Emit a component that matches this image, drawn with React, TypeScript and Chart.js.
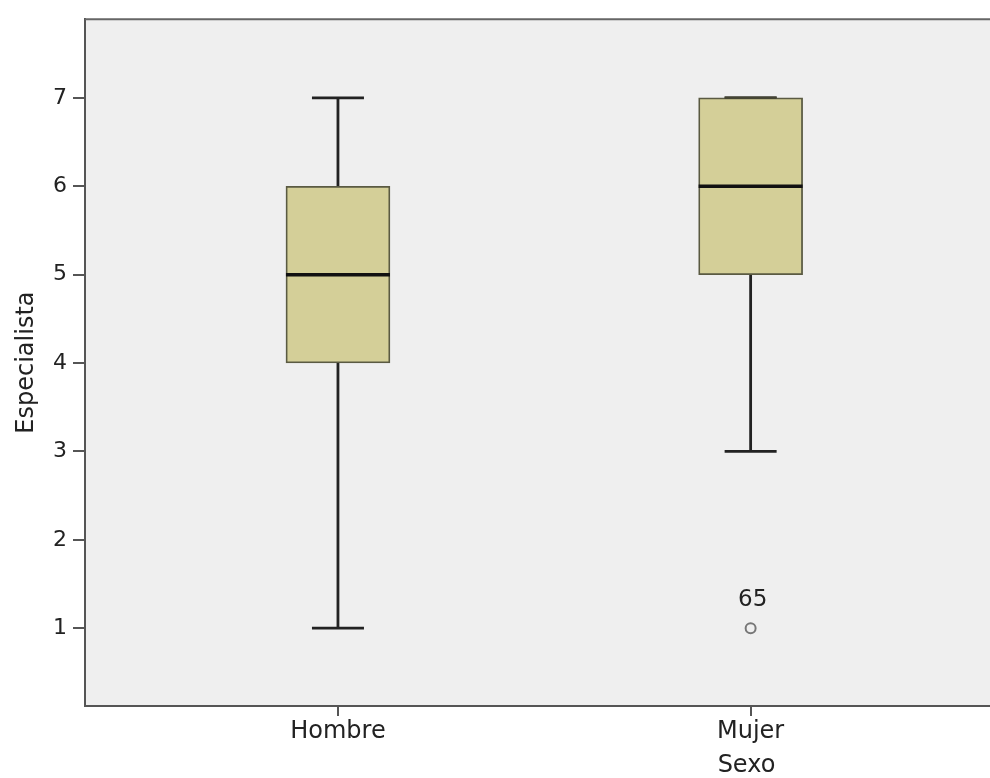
import React, { useEffect, useRef } from "react";
import { Chart, registerables } from "chart.js";

Chart.register(...registerables);

const categories = ["Hombre", "Mujer"];
const positions = [1, 2];
const whiskerLow = [1, 3];
const quartile1 = [4, 5];
const medians = [5, 6];
const quartile3 = [6, 7];
const whiskerHigh = [7, 7];
const outlierCategory = [2];
const outlierValues = [1];
const outlierLabels = ["65"];
const yTicks = [1, 2, 3, 4, 5, 6, 7];

const FONT = "'DejaVu Sans', Verdana, sans-serif";

const boxPlugin = {
  id: "boxParts",
  beforeDraw(chart: any) {
    const { ctx, chartArea } = chart;
    ctx.save();
    ctx.fillStyle = "#efefef";
    ctx.fillRect(chartArea.left, chartArea.top, chartArea.right - chartArea.left, chartArea.bottom - chartArea.top);
    ctx.restore();
  },
  beforeDatasetsDraw(chart: any) {
    const { ctx, scales } = chart;
    const xs = scales.x;
    const ys = scales.y;
    const capHalf = 26;
    ctx.save();
    ctx.strokeStyle = "#222222";
    ctx.lineWidth = 2.8;
    positions.forEach((p, i) => {
      const x = xs.getPixelForValue(p);
      const yLo = ys.getPixelForValue(whiskerLow[i]);
      const yQ1 = ys.getPixelForValue(quartile1[i]);
      const yQ3 = ys.getPixelForValue(quartile3[i]);
      const yHi = ys.getPixelForValue(whiskerHigh[i]);
      ctx.beginPath();
      ctx.moveTo(x, yLo);
      ctx.lineTo(x, yQ1);
      ctx.moveTo(x, yQ3);
      ctx.lineTo(x, yHi);
      ctx.moveTo(x - capHalf, yLo);
      ctx.lineTo(x + capHalf, yLo);
      ctx.moveTo(x - capHalf, yHi);
      ctx.lineTo(x + capHalf, yHi);
      ctx.stroke();
    });
    ctx.restore();
  },
  afterDatasetsDraw(chart: any) {
    const { ctx, scales, chartArea } = chart;
    const xs = scales.x;
    const ys = scales.y;
    const half = 52;
    ctx.save();
    ctx.strokeStyle = "#444433";
    ctx.lineWidth = 2.5;
    positions.forEach((p, i) => {
      const x = xs.getPixelForValue(p);
      if (whiskerHigh[i] === quartile3[i]) {
        const y = ys.getPixelForValue(whiskerHigh[i]);
        ctx.beginPath();
        ctx.moveTo(x - 26, y);
        ctx.lineTo(x + 26, y);
        ctx.stroke();
      }
    });
    ctx.strokeStyle = "#111111";
    ctx.lineWidth = 3.5;
    positions.forEach((p, i) => {
      const x = xs.getPixelForValue(p);
      const y = ys.getPixelForValue(medians[i]);
      ctx.beginPath();
      ctx.moveTo(x - half, y);
      ctx.lineTo(x + half, y);
      ctx.stroke();
    });
    ctx.fillStyle = "#222222";
    ctx.font = `23px ${FONT}`;
    ctx.textAlign = "center";
    ctx.textBaseline = "middle";
    outlierValues.forEach((v, i) => {
      const x = xs.getPixelForValue(outlierCategory[i]);
      const y = ys.getPixelForValue(v);
      ctx.fillText(outlierLabels[i], x + 2, y - 28);
    });
    ctx.strokeStyle = "#666666";
    ctx.lineWidth = 2;
    ctx.beginPath();
    ctx.moveTo(chartArea.left, chartArea.top);
    ctx.lineTo(chartArea.right, chartArea.top);
    ctx.stroke();
    ctx.restore();
  },
};

export default function App() {
  const ref = useRef<HTMLCanvasElement | null>(null);

  useEffect(() => {
    if (!ref.current) return;
    const chart = new Chart(ref.current, {
      type: "bar",
      data: {
        datasets: [
          {
            type: "bar",
            label: "Caja",
            data: positions.map((p, i) => ({ x: p, y: [quartile1[i], quartile3[i]] })) as any,
            backgroundColor: "#d4cf98",
            borderColor: "#5a5a42",
            borderWidth: 1.8,
            borderSkipped: false,
            barThickness: 104,
          } as any,
          {
            type: "scatter",
            label: "Atípicos",
            data: outlierValues.map((v, i) => ({ x: outlierCategory[i], y: v })),
            pointRadius: 5,
            pointBorderColor: "#777777",
            pointBorderWidth: 2,
            pointBackgroundColor: "rgba(0,0,0,0)",
          } as any,
        ],
      },
      options: {
        responsive: false,
        animation: false,
        layout: { padding: { top: 15, right: 0, left: 0, bottom: 0 } },
        plugins: { legend: { display: false }, tooltip: { enabled: false } },
        scales: {
          x: {
            type: "linear",
            offset: false,
            min: 0.387,
            max: 3.593,
            afterBuildTicks: (scale: any) => {
              scale.ticks = positions.map((p) => ({ value: p }));
            },
            afterFit: (scale: any) => {
              scale.height = 72;
            },
            ticks: {
              autoSkip: false,
              maxRotation: 0,
              padding: 1,
              color: "#222222",
              font: { family: FONT, size: 24 },
              callback: (v: any) => {
                const idx = positions.indexOf(Number(v));
                return idx >= 0 ? categories[idx] : "";
              },
            },
            grid: { display: true, offset: false, drawOnChartArea: false, drawTicks: true, tickLength: 10, color: "#555555", lineWidth: 2 },
            border: { display: true, color: "#555555", width: 2 },
            title: {
              display: true,
              text: "Sexo",
              color: "#222222",
              font: { family: FONT, size: 24, lineHeight: 1.0 },
              padding: { top: 0, bottom: 0 },
            },
          },
          y: {
            type: "linear",
            min: 0.12,
            max: 7.89,
            afterBuildTicks: (scale: any) => {
              scale.ticks = yTicks.map((v) => ({ value: v }));
            },
            afterFit: (scale: any) => {
              scale.width = 85;
            },
            ticks: {
              padding: 6,
              color: "#222222",
              font: { family: FONT, size: 22 },
            },
            grid: { display: true, drawOnChartArea: false, drawTicks: true, tickLength: 12, color: "#555555", lineWidth: 2 },
            border: { display: true, color: "#555555", width: 2 },
            title: {
              display: true,
              text: "Especialista",
              color: "#222222",
              font: { family: FONT, size: 24 },
              padding: { top: 12, bottom: 0 },
            },
          },
        },
      },
      plugins: [boxPlugin],
    });
    return () => chart.destroy();
  }, []);

  return (
    <div style={{ position: "absolute", left: 0, top: 0, width: 990, height: 778, overflow: "hidden", background: "#ffffff" }}>
      <canvas ref={ref} width={1415} height={778} style={{ width: 1415, height: 778, display: "block" }} />
    </div>
  );
}
